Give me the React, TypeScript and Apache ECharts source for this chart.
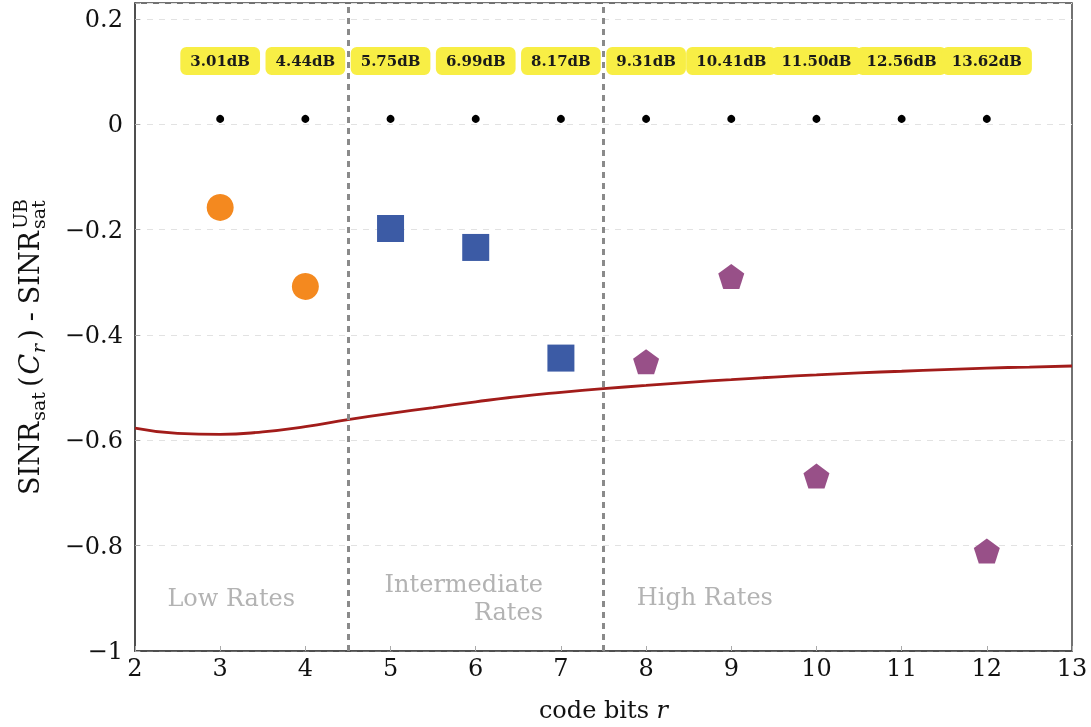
import React, { useEffect, useRef } from 'react';
import * as echarts from 'echarts';

// ---- data ----
const dotX = [3, 4, 5, 6, 7, 8, 9, 10, 11, 12];
const dotY = [0.01, 0.01, 0.01, 0.01, 0.01, 0.01, 0.01, 0.01, 0.01, 0.01];
const badgeY = [0.12, 0.12, 0.12, 0.12, 0.12, 0.12, 0.12, 0.12, 0.12, 0.12];
const badgeLabels = ['3.01dB', '4.44dB', '5.75dB', '6.99dB', '8.17dB', '9.31dB', '10.41dB', '11.50dB', '12.56dB', '13.62dB'];

const lowX = [3, 4];
const lowY = [-0.158, -0.308];
const midX = [5, 6, 7];
const midY = [-0.198, -0.234, -0.444];
const highX = [8, 9, 10, 12];
const highY = [-0.451, -0.289, -0.668, -0.81];

const curveX = [2, 2.5, 3, 3.5, 4, 4.5, 5, 5.5, 6, 6.5, 7, 7.5, 8, 8.5, 9, 9.5, 10, 10.5, 11, 11.5, 12, 12.5, 13];
const curveY = [-0.577, -0.587, -0.589, -0.584, -0.574, -0.561, -0.549, -0.538, -0.527, -0.517, -0.509, -0.502, -0.496, -0.49, -0.485, -0.48, -0.476, -0.472, -0.469, -0.466, -0.463, -0.461, -0.459];

const boundaryX = [4.5, 7.5];

const regionLabels = ['Low Rates', 'Intermediate\nRates', 'High Rates'];
const regionX = [3.13, 6.79, 8.69];
const regionY = [-0.9, -0.9, -0.898];

const FONT = 'DejaVu Serif';

function buildTitle() {
  const canvas = document.createElement('canvas');
  const ctx = canvas.getContext('2d')!;
  const measure = (t: string, s: number, it?: boolean) => {
    ctx.font = `${it ? 'italic ' : ''}${s}px "${FONT}"`;
    return ctx.measureText(t).width;
  };
  const M = 27, S = 19;
  type P = { t: string; s: number; b: number; it?: boolean; g?: number };
  const pieces: (P | P[])[] = [
    { t: 'SINR', s: M, b: 0, g: 1 },
    { t: 'sat', s: S, b: 6, g: 5 },
    { t: '(', s: M, b: 0, g: 2 },
    { t: 'C', s: M, b: 0, it: true, g: 1 },
    { t: 'r', s: S, b: 6, it: true, g: 4 },
    { t: ')', s: M, b: 0, g: 8 },
    { t: '-', s: M, b: 0, g: 8 },
    { t: 'SINR', s: M, b: 0, g: 2 },
    [
      { t: 'UB', s: S, b: -12 },
      { t: 'sat', s: S, b: 6 },
    ],
  ];
  const widths = pieces.map((p) =>
    Array.isArray(p)
      ? Math.max(...p.map((q) => measure(q.t, q.s, q.it)))
      : measure(p.t, p.s, p.it) + (p.g || 0)
  );
  const total = widths.reduce((a, b) => a + b, 0);
  let x = -total / 2;
  const children: any[] = [];
  pieces.forEach((p, i) => {
    const arr = Array.isArray(p) ? p : [p];
    arr.forEach((q) => {
      children.push({
        type: 'text',
        x,
        y: q.b - 0.32 * q.s,
        style: {
          text: q.t,
          fontSize: q.s,
          fontFamily: FONT,
          fontStyle: q.it ? 'italic' : 'normal',
          fill: '#111',
          align: 'left',
          verticalAlign: 'middle',
        },
      });
    });
    x += widths[i];
  });
  return {
    type: 'group',
    x: 38,
    y: 347,
    rotation: Math.PI / 2,
    children,
  };
}

export default function App() {
  const ref = useRef<HTMLDivElement>(null);
  useEffect(() => {
    if (!ref.current) return;
    const chart = echarts.init(ref.current, null, { renderer: 'svg' });
    const pentagon = 'path://M0,-1 L0.951,-0.309 L0.588,0.809 L-0.588,0.809 L-0.951,-0.309 Z';
    const regionAlign = ['center', 'right', 'center'];
    const option: any = {
      animation: false,
      grid: { left: 135, right: 19, top: 3, bottom: 75, show: true, borderColor: '#444', borderWidth: 1.5, backgroundColor: 'transparent' },
      xAxis: {
        type: 'value',
        min: 2,
        max: 13,
        interval: 1,
        name: 'code bits {i|r}',
        nameLocation: 'middle',
        nameGap: 47,
        nameTextStyle: {
          fontFamily: FONT,
          fontSize: 24,
          color: '#111',
          rich: { i: { fontFamily: FONT, fontSize: 24, fontStyle: 'italic', color: '#111' } },
        },
        axisLabel: { fontFamily: FONT, fontSize: 24, color: '#111', margin: 5 },
        axisLine: { show: true, onZero: false, lineStyle: { color: '#444', width: 1.5 } },
        axisTick: { show: true, inside: true, length: 5, lineStyle: { color: '#aaa' } },
        splitLine: { show: false },
      },
      yAxis: {
        type: 'value',
        min: -1,
        max: 0.23,
        interval: 0.2,
        axisLabel: {
          fontFamily: FONT,
          fontSize: 24,
          color: '#111',
          margin: 12,
          formatter: (v: number) => {
            if (Math.abs(v * 5 - Math.round(v * 5)) > 1e-6) return '';
            const r = Math.round(v * 10) / 10;
            if (r === 0) return '0';
            return r < 0 ? '\u2212' + String(Math.abs(r)) : String(r);
          },
        },
        axisLine: { show: true, onZero: false, lineStyle: { color: '#444', width: 1.5 } },
        axisTick: { show: true, inside: true, length: 5, lineStyle: { color: '#aaa' } },
        splitLine: { show: true, lineStyle: { color: '#e2e2e2', type: [6, 6], width: 1 } },
      },
      series: [
        {
          type: 'line',
          data: curveX.map((x, i) => [x, curveY[i]]),
          smooth: true,
          showSymbol: false,
          lineStyle: { color: '#A21C1A', width: 2.8 },
          z: 3,
          markLine: {
            silent: true,
            symbol: 'none',
            label: { show: false },
            lineStyle: { color: '#8a8a8a', width: 3, type: [6, 5] },
            data: boundaryX.map((x) => ({ xAxis: x })),
          },
        },
        {
          type: 'scatter',
          data: dotX.map((x, i) => [x, dotY[i]]),
          symbol: 'circle',
          symbolSize: 8,
          itemStyle: { color: '#000', opacity: 1 },
          z: 4,
        },
        {
          type: 'scatter',
          data: lowX.map((x, i) => [x, lowY[i]]),
          symbol: 'circle',
          symbolSize: 27,
          itemStyle: { color: '#F4891F', opacity: 1 },
          z: 4,
        },
        {
          type: 'scatter',
          data: midX.map((x, i) => [x, midY[i]]),
          symbol: 'rect',
          symbolSize: 27,
          itemStyle: { color: '#3C5BA5', opacity: 1 },
          z: 4,
        },
        {
          type: 'scatter',
          data: highX.map((x, i) => [x, highY[i]]),
          symbol: pentagon,
          symbolSize: [26, 25],
          itemStyle: { color: '#985088', opacity: 1 },
          z: 4,
        },
        {
          type: 'scatter',
          data: dotX.map((x, i) => [x, badgeY[i]]),
          symbolSize: 1,
          itemStyle: { color: 'transparent', opacity: 1 },
          z: 5,
          label: {
            show: true,
            position: 'inside',
            formatter: (p: any) => badgeLabels[p.dataIndex],
            fontFamily: FONT,
            fontWeight: 'bold',
            fontSize: 15,
            lineHeight: 16,
            color: '#1a1a1a',
            opacity: 1,
            backgroundColor: '#F8EE45',
            borderRadius: 6,
            padding: [6, 10, 6, 10],
          },
        },
        {
          type: 'scatter',
          data: regionX.map((x, i) => ({
            value: [x, regionY[i]],
            label: { align: regionAlign[i] },
          })),
          symbolSize: 1,
          itemStyle: { color: 'transparent', opacity: 1 },
          z: 5,
          label: {
            show: true,
            position: 'inside',
            formatter: (p: any) => regionLabels[p.dataIndex],
            fontFamily: FONT,
            fontSize: 24,
            lineHeight: 28,
            color: '#b3b3b3',
            opacity: 1,
          },
        },
      ],
      graphic: [buildTitle()],
    };
    chart.setOption(option);
    return () => chart.dispose();
  }, []);
  return <div ref={ref} style={{ position: 'fixed', left: 0, top: 0, width: 1091, height: 727 }} />;
}
